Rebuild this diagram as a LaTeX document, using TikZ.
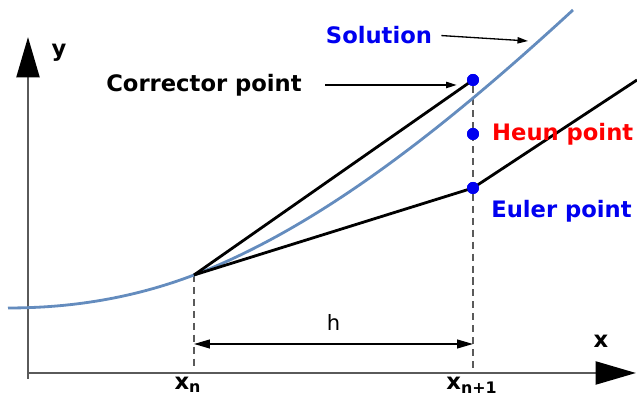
\documentclass[tikz,border=0pt]{standalone}
\usepackage{fontspec}
\setmainfont{DejaVu Sans}
\usetikzlibrary{arrows.meta, positioning, calc}
\definecolor{solblue}{RGB}{100,140,190}
\definecolor{axisgray}{RGB}{90,90,90}
\definecolor{pointblue}{RGB}{0,0,240}

\begin{document}
\begin{tikzpicture}[
    x=0.02cm, y=0.02cm,
    every node/.style={font=\fontsize{12.9}{15}\selectfont\bfseries, inner sep=0pt},
    axis/.style={draw=axisgray, line width=1.6pt, -{Triangle[length=23pt, width=13pt, color=black]}},
    guide/.style={draw=axisgray, line width=0.9pt, dash pattern=on 4pt off 2.8pt},
    approx/.style={draw=black, line width=1.6pt, line join=round},
    solution/.style={draw=solblue, line width=1.6pt},
    pointer/.style={draw=black, line width=0.75pt, -{Triangle[length=6pt, width=3.6pt]}},
    span/.style={draw=black, line width=0.85pt, {Triangle[length=9pt, width=5pt]}-{Triangle[length=9pt, width=5pt]}},
    dot/.style={circle, fill=pointblue, minimum size=0.24cm}
]
    \useasboundingbox (0,0) rectangle (637,401);

    % Axes
    \coordinate (origin) at (28,28);
    \draw[axis] (28,22) -- (28,364) coordinate (ytip);
    \draw[axis] (origin) -- (636,28) coordinate (xtip);
    \node (ylabel) at (59,348) {y};
    \node (xlabel) at (601,60) {x};

    % Grid points on the x axis
    \coordinate (xn) at (194,126);
    \node (corr) [dot] at (473,321) {};
    \node (heun) [dot] at (473,267) {};
    \node (euler) [dot] at (473,213) {};
    \coordinate (eulerend) at (637,321);
    \node (xnlabel) at (188,16) {x\textsubscript{n}};
    \node (xnextlabel) at (472,16) {x\textsubscript{n+1}};

    % Dashed guides and step width
    \draw[guide] (xn) -- (xn |- 0,31);
    \draw[guide] (corr.south) -- (corr |- 0,31);
    \draw[span] (xn |- 0,57) -- (corr |- 0,57) node[midway, above=7pt, font=\fontsize{12}{14}\selectfont] (hlabel) {h};

    % Exact solution
    \draw[solution] (8,93) .. controls (70,93) and (132,102.4) .. (xn)
        .. controls (320,174) and (447,275) .. (573,391);

    % Euler and corrector steps
    \draw[approx] (xn) -- (corr.center);
    \draw[approx] (xn) -- (euler.center) -- (eulerend);
    \node[dot] at (corr) {};
    \node[dot] at (heun) {};
    \node[dot] at (euler) {};

    % Labels
    \node (corrlabel) at (204,316) {Corrector point};
    \node (sollabel) [text=pointblue] at (379,366) {Solution};
    \coordinate (solpoint) at (528,360);
    \node (heunlabel) [text=red, right=0.25cm of heun] {Heun point};
    \node (eulerlabel) [text=pointblue, anchor=west] at (491,190) {Euler point};

    \draw[pointer, shorten <=0.46cm, shorten >=0.2cm] (corrlabel.east) -- (corrlabel.east -| corr.west);
    \draw[pointer, shorten <=0.18cm] (sollabel.east) -- (solpoint);
\end{tikzpicture}
\end{document}
